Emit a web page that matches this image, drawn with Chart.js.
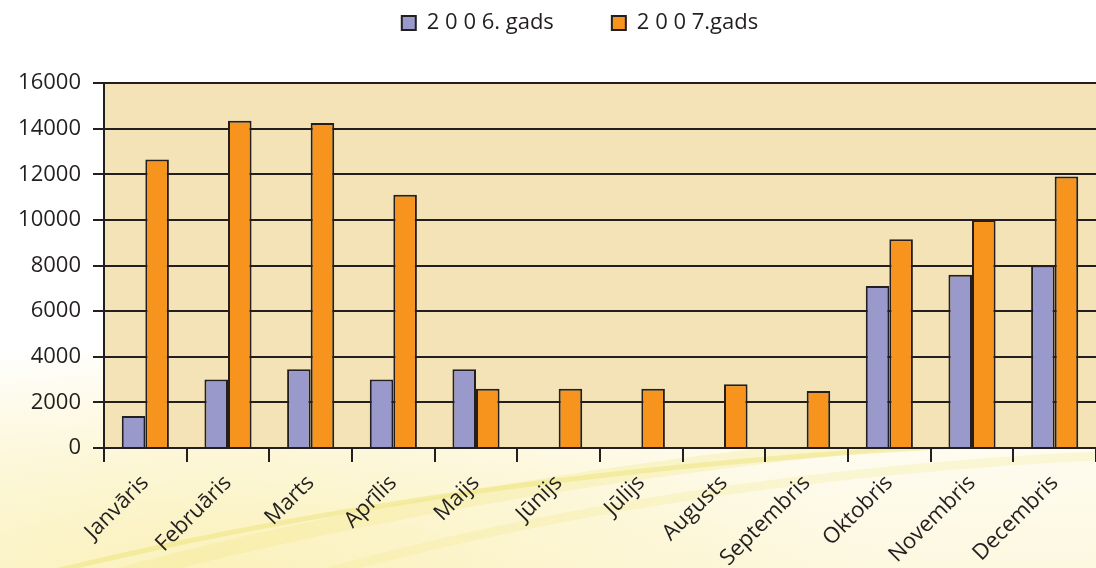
<!DOCTYPE html>
<html>
<head>
<meta charset="utf-8">
<script src="https://cdn.jsdelivr.net/npm/chart.js@4.4.1/dist/chart.umd.min.js"></script>
<style>
  html, body { margin: 0; padding: 0; }
  body {
    width: 1096px; height: 568px; overflow: hidden;
    background:
      radial-gradient(ellipse 60% 40% at 20% 100%, rgba(250, 240, 180, 0.8), rgba(255, 255, 255, 0) 100%),
      linear-gradient(to bottom, #ffffff 0%, #ffffff 60%, #fdf8e0 100%);
  }
  .chart-container { position: relative; width: 1096px; height: 568px; }
</style>
</head>
<body>
<div class="chart-container">
  <canvas id="months-chart"></canvas>
</div>
<script>
const months = ['Janvāris', 'Februāris', 'Marts', 'Aprīlis', 'Maijs', 'Jūnijs',
  'Jūlijs', 'Augusts', 'Septembris', 'Oktobris', 'Novembris', 'Decembris'];
const series2006 = [1400, 3000, 3450, 3000, 3450, 0, 0, 0, 0, 7100, 7600, 8000];
const series2007 = [12650, 14350, 14250, 11100, 2600, 2600, 2600, 2800, 2500, 9150, 10000, 11900];
const yTicks = [0, 2000, 4000, 6000, 8000, 10000, 12000, 14000, 16000];

const ink = '#231f20';
const fontFamily = '"Open Sans", "DejaVu Sans", sans-serif';

// plot area fill + yellow swoosh behind the labels
const backdrop = {
  id: 'backdrop',
  afterLayout(chart) {
    // legend sits high up, centred over the plot
    const lg = chart.legend;
    lg.top -= 39; lg.bottom -= 39;
    lg.left += 32; lg.right += 32;
  },
  beforeDraw(chart) {
    const { ctx, chartArea } = chart;
    ctx.save();
    ctx.lineCap = 'round';
    const strokes = [
      [0, 610, 420, 480, 1000, 432, 16, 'rgba(240, 230, 130, 0.28)'],
      [0, 585, 480, 460, 1096, 440, 5, 'rgba(232, 222, 100, 0.4)'],
      [200, 610, 600, 480, 1096, 456, 9, 'rgba(240, 232, 130, 0.25)']
    ];
    strokes.forEach(([x0, y0, cx, cy, x1, y1, w, c]) => {
      ctx.beginPath();
      ctx.moveTo(x0, y0);
      ctx.quadraticCurveTo(cx, cy, x1, y1);
      ctx.lineWidth = w;
      ctx.strokeStyle = c;
      ctx.stroke();
    });
    ctx.fillStyle = '#f3e3b6';
    ctx.fillRect(chartArea.left, chartArea.top, chartArea.right - chartArea.left, chartArea.bottom - chartArea.top);
    ctx.restore();
  }
};

new Chart(document.getElementById('months-chart').getContext('2d'), {
  type: 'bar',
  data: {
    labels: months,
    datasets: [{
      label: '2 0 0 6. gads',
      data: series2006,
      backgroundColor: '#9999cc',
      borderColor: ink,
      borderWidth: 2
    }, {
      label: '2 0 0 7.gads',
      data: series2007,
      backgroundColor: '#f7941d',
      borderColor: ink,
      borderWidth: 2
    }]
  },
  options: {
    responsive: true,
    maintainAspectRatio: false,
    animation: false,
    categoryPercentage: 0.57,
    barPercentage: 1,
    layout: { padding: { top: -7, right: 0, left: 0, bottom: 0 } },
    scales: {
      x: {
        afterFit: scale => { scale.height = 120; scale.paddingLeft = 0; },
        grid: {
          display: true,
          offset: true,
          drawOnChartArea: false,
          drawTicks: true,
          tickLength: 14,
          color: ink,
          lineWidth: 2
        },
        border: { display: true, color: ink, width: 2 },
        ticks: {
          maxRotation: 45,
          minRotation: 45,
          autoSkip: false,
          padding: 8,
          color: ink,
          font: { family: fontFamily, size: 22 }
        }
      },
      y: {
        min: 0,
        max: 16000,
        afterFit: scale => { scale.width = 104; },
        afterBuildTicks: scale => { scale.ticks = yTicks.map(v => ({ value: v })); },
        grid: {
          color: ink,
          lineWidth: 2,
          drawTicks: true,
          tickLength: 11
        },
        border: { display: true, color: ink, width: 2 },
        ticks: {
          padding: 12,
          color: ink,
          font: { family: fontFamily, size: 22 },
          callback: value => String(value)
        }
      }
    },
    plugins: {
      legend: {
        display: true,
        position: 'top',
        labels: {
          boxWidth: 14,
          boxHeight: 14,
          padding: 58,
          color: ink,
          font: { family: fontFamily, size: 22 }
        }
      },
      tooltip: { enabled: false }
    }
  },
  plugins: [backdrop]
});
</script>
</body>
</html>
